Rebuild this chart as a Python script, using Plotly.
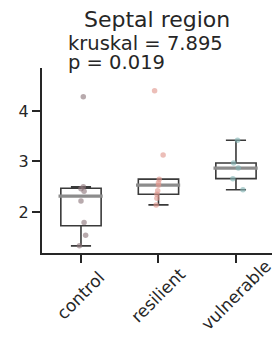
import numpy as np
import plotly.graph_objects as go

# ---- data ----
categories = ["control", "resilient", "vulnerable"]
control_vals = [4.28, 2.50, 2.41, 2.46, 2.22, 1.79, 1.54, 1.33]
resilient_vals = [4.40, 3.13, 2.65, 2.58, 2.53, 2.42, 2.35, 2.27, 2.14]
vulnerable_vals = [3.42, 2.97, 2.87, 2.66, 2.44]
# strip-plot jitter (fraction of category spacing)
control_jit = [0.03, 0.03, 0.04, 0.0, 0.0, 0.04, 0.06, -0.02]
resilient_jit = [-0.05, 0.06, 0.01, 0.0, 0.0, -0.01, -0.02, -0.02, -0.03]
vulnerable_jit = [0.02, -0.03, 0.03, -0.04, 0.09]
title_text = "Septal region"
stat_line1 = "kruskal = 7.895"
stat_line2 = "p = 0.019"
y_ticks = [2, 3, 4]

series = [control_vals, resilient_vals, vulnerable_vals]
jitters = [control_jit, resilient_jit, vulnerable_jit]
dot_colors = ["rgba(140,118,122,0.62)", "rgba(225,150,140,0.62)", "rgba(130,180,180,0.62)"]

INK = "#262626"
BOXW = 0.52
FONT = "DejaVu Sans"

fig = go.Figure()

for i, vals in enumerate(series):
    a = np.array(vals)
    q1, med, q3 = np.percentile(a, [25, 50, 75])
    iqr = q3 - q1
    lo = a[a >= q1 - 1.5 * iqr].min()
    hi = a[a <= q3 + 1.5 * iqr].max()
    fig.add_trace(go.Box(
        x=[i], q1=[q1], median=[med], q3=[q3], lowerfence=[lo], upperfence=[hi],
        width=BOXW, whiskerwidth=0.5, fillcolor="white",
        line=dict(color="#3a3a3a", width=1.6), boxpoints=False,
        showlegend=False, hoverinfo="skip"))
    fig.add_trace(go.Scatter(
        x=[i - BOXW / 2 - 0.03, i + BOXW / 2 + 0.02], y=[med, med], mode="lines",
        line=dict(color="#8c8c8c", width=3.2), showlegend=False, hoverinfo="skip"))

for i, (vals, jit) in enumerate(zip(series, jitters)):
    fig.add_trace(go.Scatter(
        x=[i + j for j in jit], y=vals, mode="markers",
        marker=dict(size=5.5, color=dot_colors[i], line=dict(width=0)),
        showlegend=False, hoverinfo="skip"))

PH = 185  # plot height in px (for paper-coordinate placement)

# category labels (rotated, centred under ticks)
for i, c in enumerate(categories):
    fig.add_annotation(x=i, xref="x", y=-42 / PH, yref="paper", text=c,
                       textangle=-45, showarrow=False,
                       xanchor="center", yanchor="middle",
                       font=dict(family=FONT, size=17, color=INK))

# title and stats
fig.add_annotation(x=0.5, xref="paper", y=(253 - 19) / PH, yref="paper",
                   text=title_text, showarrow=False, xanchor="center", yanchor="middle",
                   font=dict(family=FONT, size=22, color=INK))
fig.add_annotation(x=(66 - 42) / 230, xref="paper", y=(253 - 43.5) / PH, yref="paper",
                   text=stat_line1, showarrow=False, xanchor="left", yanchor="middle",
                   font=dict(family=FONT, size=19.5, color=INK))
fig.add_annotation(x=(66 - 42) / 230, xref="paper", y=(253 - 62.3) / PH, yref="paper",
                   text=stat_line2, showarrow=False, xanchor="left", yanchor="middle",
                   font=dict(family=FONT, size=19.5, color=INK))

fig.update_layout(
    width=272, height=347,
    margin=dict(l=42, r=0, t=68, b=94, pad=0, autoexpand=False),
    plot_bgcolor="white", paper_bgcolor="white",
    font=dict(family=FONT, color=INK),
    boxmode="overlay",
)
fig.update_xaxes(range=[-0.503, 2.465], tickvals=[0, 1, 2], showticklabels=False,
                 ticks="outside", ticklen=8, tickwidth=1.6, tickcolor=INK, automargin=False,
                 showline=True, linecolor=INK, linewidth=2, showgrid=False, zeroline=False)
fig.update_yaxes(range=[1.188, 4.851], tickvals=y_ticks, automargin=False,
                 ticks="outside", ticklen=8, tickwidth=1.6, tickcolor=INK,
                 tickfont=dict(size=16, color=INK, family=FONT),
                 showline=True, linecolor=INK, linewidth=2, showgrid=False, zeroline=False)

fig.write_html("out.html", config={"displayModeBar": False},
               post_script="document.body.style.margin='0';document.body.style.padding='0';"
                           "document.documentElement.style.overflow='hidden';")
